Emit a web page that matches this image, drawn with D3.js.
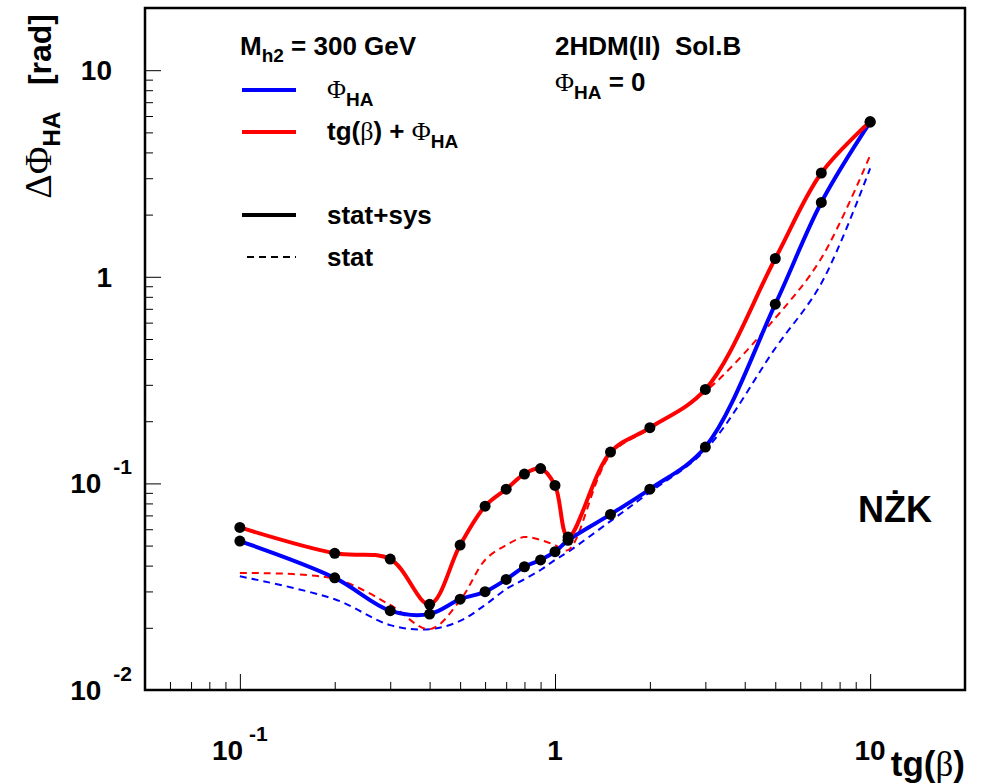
<!DOCTYPE html>
<html>
<head>
<meta charset="utf-8">
<script src="https://cdn.jsdelivr.net/npm/d3@7"></script>
<style>
  body { margin: 0; background: #fff; }
  svg { display: block; }
  text { font-family: "Liberation Sans", Arial, sans-serif; font-weight: bold; fill: #000; }
  .greek { font-family: "Liberation Serif", "Times New Roman", serif; font-weight: normal; }
</style>
</head>
<body>
<div id="chart"></div>
<script>
// tg(beta) points
const tanBeta = [0.1, 0.2, 0.3, 0.4, 0.5, 0.6, 0.7, 0.8, 0.9, 1.0, 1.1, 1.5, 2, 3, 5, 7, 10];
// Delta Phi_HA, stat+sys
const phiSys = [0.0526, 0.0349, 0.0242, 0.0233, 0.0275, 0.0299, 0.0343, 0.0395, 0.0426, 0.0467, 0.053, 0.0708, 0.0938, 0.150, 0.737, 2.29, 5.6];
const tgPhiSys = [0.0612, 0.0459, 0.043, 0.026, 0.0503, 0.0776, 0.0938, 0.111, 0.118, 0.0978, 0.055, 0.1417, 0.186, 0.285, 1.226, 3.18, 5.64];
// stat only
const phiStat = [0.0355, 0.0275, 0.0206, 0.0197, 0.0216, 0.0258, 0.0308, 0.0344, 0.0381, 0.0426, 0.0466, 0.0657, 0.0907, 0.145, 0.451, 0.93, 3.35];
const tgPhiStat = [0.0368, 0.0345, 0.0258, 0.0197, 0.0272, 0.0426, 0.0503, 0.055, 0.0532, 0.0503, 0.0475, 0.138, 0.184, 0.278, 0.631, 1.23, 3.87];

const xMajor = [0.1, 1, 10];
const xMinor = [0.06, 0.07, 0.08, 0.09, 0.2, 0.3, 0.4, 0.5, 0.6, 0.7, 0.8, 0.9, 2, 3, 4, 5, 6, 7, 8, 9];
const yMajor = [0.01, 0.1, 1, 10];
const yMinor = [0.02, 0.03, 0.04, 0.05, 0.06, 0.07, 0.08, 0.09, 0.2, 0.3, 0.4, 0.5, 0.6, 0.7, 0.8, 0.9, 2, 3, 4, 5, 6, 7, 8, 9];
const xLabels = [["10", "-1"], ["1", ""], ["10", ""]];
const yLabels = [["10", "-2"], ["10", "-1"], ["1", ""], ["10", ""]];

const W = 982, H = 783;
const mLeft = 145, mRight = 965, mTop = 8, mBottom = 690;

const svg = d3.select("#chart").append("svg").attr("width", W).attr("height", H);

const x = d3.scaleLog().domain([0.05, 20]).range([mLeft, mRight]);
const y = d3.scaleLog().domain([0.01, 20]).range([mBottom, mTop]);

// ticks (inside frame)
const gx = svg.append("g").attr("transform", `translate(0,${mBottom})`);
gx.append("g").call(d3.axisBottom(x).tickValues(xMinor).tickSize(-8).tickFormat(""));
gx.append("g").call(d3.axisBottom(x).tickValues(xMajor).tickSize(-16).tickFormat(""));
const gy = svg.append("g").attr("transform", `translate(${mLeft},0)`);
gy.append("g").call(d3.axisLeft(y).tickValues(yMinor).tickSize(-8).tickFormat(""));
gy.append("g").call(d3.axisLeft(y).tickValues(yMajor).tickSize(-16).tickFormat(""));
svg.selectAll(".domain").remove();
svg.selectAll(".tick line").attr("stroke", "#000").attr("stroke-width", 1);

// frame
svg.append("rect")
  .attr("x", mLeft).attr("y", mTop)
  .attr("width", mRight - mLeft).attr("height", mBottom - mTop)
  .attr("fill", "none").attr("stroke", "#000").attr("stroke-width", 2.5);

// tick labels
xMajor.forEach((v, i) => {
  const t = svg.append("text").attr("x", x(v)).attr("y", 760)
    .attr("text-anchor", "middle").attr("font-size", 28);
  t.append("tspan").text(xLabels[i][0]);
  if (xLabels[i][1]) t.append("tspan").attr("dx", 6).attr("dy", -19).attr("font-size", 21).text(xLabels[i][1]);
});
yMajor.forEach((v, i) => {
  const hasExp = yLabels[i][1] !== "";
  const t = svg.append("text").attr("x", hasExp ? 132 : 112).attr("y", y(v) + 10)
    .attr("text-anchor", "end").attr("font-size", 28);
  t.append("tspan").text(yLabels[i][0]);
  if (hasExp) t.append("tspan").attr("dx", 12).attr("dy", -19).attr("font-size", 21).text(yLabels[i][1]);
});

// axis titles
const xt = svg.append("text").attr("x", mRight).attr("y", 776)
  .attr("text-anchor", "end").attr("font-size", 35);
xt.append("tspan").text("tg(");
xt.append("tspan").attr("class", "greek").text("β");
xt.append("tspan").text(")");

const yt = svg.append("text").attr("transform", "translate(51,14) rotate(-90)")
  .attr("text-anchor", "end").attr("font-size", 32);
yt.append("tspan").attr("class", "greek").attr("font-size", 38).text("ΔΦ");
yt.append("tspan").attr("font-size", 24).attr("dy", 9).text("HA");
yt.append("tspan").attr("dy", -9).attr("xml:space", "preserve").text("   [rad]");

// curves
const line = d3.line()
  .x((d) => x(d[0]))
  .y((d) => y(d[1]))
  .curve(d3.curveCatmullRom.alpha(0.5));

const series = [
  { vals: phiStat, color: "#0000ff", dash: "7,5", w: 2 },
  { vals: tgPhiStat, color: "#ff0000", dash: "7,5", w: 2 },
  { vals: phiSys, color: "#0000ff", dash: null, w: 4 },
  { vals: tgPhiSys, color: "#ff0000", dash: null, w: 4 },
];
series.forEach((s) => {
  svg.append("path")
    .datum(tanBeta.map((t, i) => [t, s.vals[i]]))
    .attr("fill", "none")
    .attr("stroke", s.color)
    .attr("stroke-width", s.w)
    .attr("stroke-dasharray", s.dash)
    .attr("d", line);
});
[phiSys, tgPhiSys].forEach((vals) => {
  svg.append("g").selectAll("circle")
    .data(tanBeta.map((t, i) => [t, vals[i]]))
    .join("circle")
    .attr("cx", (d) => x(d[0]))
    .attr("cy", (d) => y(d[1]))
    .attr("r", 5.5)
    .attr("fill", "#000");
});

// legend
const legend = [
  { y: 90, color: "#0000ff", w: 4, dash: null },
  { y: 132, color: "#ff0000", w: 4, dash: null },
  { y: 215, color: "#000", w: 4, dash: null },
  { y: 257, color: "#000", w: 2, dash: "7,5" },
];
legend.forEach((l) => {
  svg.append("line")
    .attr("x1", l.dash ? 247 : 242).attr("x2", 296)
    .attr("y1", l.y).attr("y2", l.y)
    .attr("stroke", l.color).attr("stroke-width", l.w)
    .attr("stroke-dasharray", l.dash);
});

const fs = 26;
let t = svg.append("text").attr("x", 240).attr("y", 55).attr("font-size", fs);
t.append("tspan").text("M");
t.append("tspan").attr("font-size", 19).attr("dy", 7).text("h2");
t.append("tspan").attr("dy", -7).attr("xml:space", "preserve").text(" = 300 GeV");

t = svg.append("text").attr("x", 327).attr("y", 98).attr("font-size", fs);
t.append("tspan").attr("class", "greek").text("Φ");
t.append("tspan").attr("font-size", 19).attr("dy", 8).text("HA");

t = svg.append("text").attr("x", 327).attr("y", 140).attr("font-size", fs);
t.append("tspan").text("tg(");
t.append("tspan").attr("class", "greek").text("β");
t.append("tspan").attr("xml:space", "preserve").text(") + ");
t.append("tspan").attr("class", "greek").text("Φ");
t.append("tspan").attr("font-size", 19).attr("dy", 8).text("HA");

svg.append("text").attr("x", 327).attr("y", 224).attr("font-size", fs).text("stat+sys");
svg.append("text").attr("x", 327).attr("y", 266).attr("font-size", fs).text("stat");

svg.append("text").attr("x", 555).attr("y", 55).attr("font-size", fs)
  .attr("xml:space", "preserve").text("2HDM(II)  Sol.B");
t = svg.append("text").attr("x", 555).attr("y", 91).attr("font-size", fs);
t.append("tspan").attr("class", "greek").text("Φ");
t.append("tspan").attr("font-size", 19).attr("dy", 8).text("HA");
t.append("tspan").attr("dy", -8).attr("xml:space", "preserve").text(" = 0");

svg.append("text").attr("x", 858).attr("y", 522).attr("font-size", 36).text("NŻK");
</script>
</body>
</html>
